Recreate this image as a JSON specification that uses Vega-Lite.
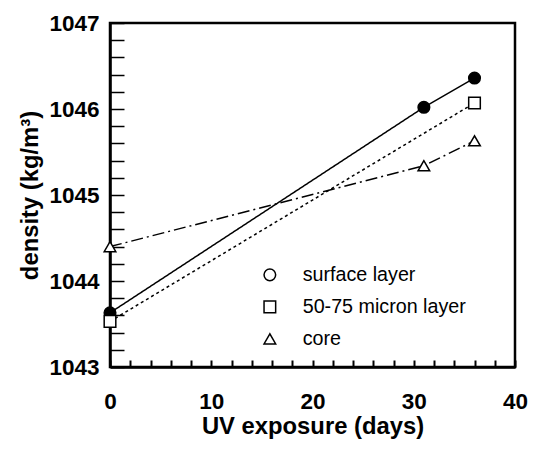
{
  "$schema": "https://vega.github.io/schema/vega-lite/v6.json",
  "width": 405,
  "height": 344,
  "padding": {"left": 18, "top": 12, "right": 0, "bottom": 5},
  "background": "white",
  "config": {
    "view": {"stroke": "black", "strokeWidth": 2.5},
    "font": "Liberation Sans",
    "axis": {"grid": false, "domainColor": "black", "domainWidth": 2.5, "labelColor": "black", "titleColor": "black", "labelFont": "Liberation Sans", "titleFont": "Liberation Sans", "labelFontWeight": "bold", "titleFontWeight": "bold", "labelFontSize": 22.5, "titleFontSize": 23.8}
  },
  "data": {"values": [
    {"series": "surface layer", "days": 0, "density": 1043.63},
    {"series": "surface layer", "days": 31, "density": 1046.02},
    {"series": "surface layer", "days": 36, "density": 1046.36},
    {"series": "50-75 micron layer", "days": 0, "density": 1043.53},
    {"series": "50-75 micron layer", "days": 36, "density": 1046.07},
    {"series": "core", "days": 0, "density": 1044.4},
    {"series": "core", "days": 31, "density": 1045.34},
    {"series": "core", "days": 36, "density": 1045.63}
  ]},
  "encoding": {
    "x": {"field": "days", "type": "quantitative", "scale": {"domain": [0, 40], "nice": false},
      "axis": {"title": "UV exposure (days)", "format": "d", "values": [0,2,4,6,8,10,12,14,16,18,20,22,24,26,28,30,32,34,36,38,40], "ticks": true, "tickColor": "black", "tickWidth": 2, "tickSize": -7, "labelExpr": "datum.value % 10 === 0 ? datum.label : ''", "labelOverlap": false, "labelFlush": false, "labelPadding": 30, "titlePadding": 2}},
    "y": {"field": "density", "type": "quantitative", "scale": {"domain": [1043, 1047], "nice": false, "zero": false},
      "axis": {"title": "density (kg/m³)", "format": ".1f", "values": [1043,1043.2,1043.4,1043.6,1043.8,1044,1044.2,1044.4,1044.6,1044.8,1045,1045.2,1045.4,1045.6,1045.8,1046,1046.2,1046.4,1046.6,1046.8,1047], "tickCount": 100, "ticks": true, "tickColor": "black", "tickWidth": 1.5, "tickSize": -14, "labelExpr": "datum.value % 1 === 0 ? format(datum.value, 'd') : ''", "labelOverlap": false, "labelFlush": false, "labelPadding": 25, "titlePadding": 6}}
  },
  "layer": [
    {
      "mark": {"type": "line", "color": "black", "strokeWidth": 1.5},
      "encoding": {
        "strokeDash": {"field": "series", "type": "nominal", "scale": {"domain": ["core", "surface layer", "50-75 micron layer"], "range": [[12, 4, 2, 4], [1, 0], [3, 3]]}, "legend": null}
      }
    },
    {
      "mark": {"type": "point", "stroke": "black", "strokeWidth": 1.5, "size": 135, "opacity": 1},
      "encoding": {
        "shape": {"field": "series", "type": "nominal", "scale": {"domain": ["surface layer", "50-75 micron layer", "core"], "range": ["circle", "square", "triangle-up"]},
          "legend": {
            "title": null, "orient": "none", "legendX": 150, "legendY": 242,
            "labelFontSize": 19.7, "labelFont": "Liberation Sans", "labelColor": "black", "labelOffset": 23, "labelLimit": 400,
            "symbolSize": 135, "rowPadding": 11, "padding": 0,
            "encode": {"symbols": {
              "fill": {"condition": {"test": "datum.value === 'surface layer'", "value": "black"}, "value": "white"},
              "stroke": {"value": "black"},
              "strokeWidth": {"value": 1.5},
              "opacity": {"value": 1}
            }}
          }},
        "fill": {"condition": {"test": "datum.series === 'surface layer'", "value": "black"}, "value": "white"}
      }
    }
  ]
}
